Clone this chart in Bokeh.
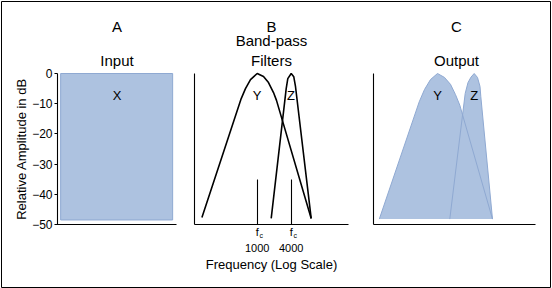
from math import log10
from bokeh.plotting import figure
from bokeh.models import (FixedTicker, Label, Range1d, NumeralTickFormatter,
                          LinearAxis, LogAxis, LogScale)
from bokeh.embed import file_html
from bokeh.resources import INLINE

FONT = "Liberation Sans"
FILL = "#adc2e0"
EDGE = "#8fa9d2"

# ---- data ----
db_ticks = [0, -10, -20, -30, -40, -50]
center_freqs = [1000, 4000]

# A: flat input spectrum
input_freq_lo, input_freq_hi = 24, 16000
input_top_db, input_floor_db = 0, -48.5

# B: band-pass filter responses (Hz, dB)
filt_y_freq = [105, 521, 620, 761, 1000, 1293, 1585, 1944, 2196, 9037]
filt_y_db = [-47.7, -8.3, -5.0, -2.0, 0.0, -1.0, -3.0, -6.3, -8.9, -48.0]
filt_z_freq = [1770, 3262, 3482, 4000, 4446, 4765, 9037]
filt_z_db = [-48.0, -5.0, -1.7, 0.0, -1.1, -4.3, -48.0]

# C: output spectra (Hz, dB)
out_y_freq = [111, 501, 612, 768, 1000, 1302, 1635, 1974, 2322, 7984]
out_y_db = [-48.2, -9.4, -5.3, -2.0, 0.0, -1.3, -3.6, -7.0, -10.5, -48.2]
out_z_freq = [1591, 2847, 3165, 3543, 4000, 4530, 4980, 5133, 7984]
out_z_db = [-48.2, -6.6, -3.0, -1.2, 0.0, -1.3, -4.3, -7.6, -48.2]

# panel frequency extents (axis bounds)
panel_a_bounds = (17.8, 20000)
panel_b_bounds = (77.6, 41360)
panel_c_bounds = (89.2, 40510)

# ---- layout geometry (canvas pixels) ----
W, H = 552, 288
FL, FR, FT, FB = 1, 550, 1, 287          # frame edges
Y0_PX, Y50_PX = 73, 224                   # pixel rows of 0 dB and -50 dB


def log_range(px_a, f_a, px_b, f_b):
    per = (px_b - px_a) / (log10(f_b) - log10(f_a))
    lo = 10 ** (log10(f_a) - (px_a - FL) / per)
    hi = 10 ** (log10(f_a) + (FR - px_a) / per)
    return Range1d(lo, hi)


per_db = (Y50_PX - Y0_PX) / 50.0
y_range = Range1d(-(FB - Y0_PX) / per_db, (Y0_PX - FT) / per_db)

p = figure(width=W, height=H, x_range=Range1d(0, 1), y_range=y_range,
           x_axis_location=None, y_axis_location=None,
           min_border_left=FL, min_border_right=W - FR, min_border_top=FT,
           min_border_bottom=H - FB, output_backend="svg", toolbar_location=None,
           background_fill_color="white", border_fill_color="white")
p.outline_line_color = "black"
p.outline_line_width = 1
p.grid.visible = False

p.extra_x_ranges = {
    "A": log_range(57, 20, 176, 20000),
    "B": log_range(256.7, 1000, 290.7, 4000),
    "C": log_range(437, 1000, 473.7, 4000),
}
p.extra_x_scales = {"A": LogScale(), "B": LogScale(), "C": LogScale()}


def style(ax):
    ax.axis_line_color = "black"
    ax.axis_line_width = 1.1
    ax.minor_tick_line_color = None
    ax.major_tick_line_color = "black"
    ax.major_tick_in = 0
    ax.major_tick_out = 0
    ax.major_label_text_font = FONT
    ax.major_label_text_color = "black"
    ax.axis_label_text_font = FONT
    ax.axis_label_text_font_style = "normal"
    ax.axis_label_text_color = "black"
    return ax


def yaxis(name, loc, ticks):
    ax = style(LinearAxis(x_range_name=name, fixed_location=loc, bounds=(-50, 0),
                          ticker=FixedTicker(ticks=ticks)))
    p.add_layout(ax, "left")
    return ax


def xaxis(name, bounds, ticks):
    ax = style(LogAxis(x_range_name=name, fixed_location=-50, bounds=bounds,
                       ticker=FixedTicker(ticks=ticks)))
    p.add_layout(ax, "below")
    return ax


def text(name, x, y, txt, size="15px", **kw):
    p.add_layout(Label(x=x, y=y, x_range_name=name, text=txt, text_font=FONT,
                       text_font_size=size, text_align="center",
                       text_baseline="middle", text_color="black", **kw))


# ---- panel A ----
ya = yaxis("A", 20, db_ticks)
ya.major_tick_out = 3
ya.major_label_standoff = 2
ya.major_label_text_font_size = "12px"
ya.axis_label = "Relative Amplitude in dB"
ya.axis_label_text_font_size = "13px"
ya.axis_label_standoff = 0
xaxis("A", panel_a_bounds, [])
p.quad(left=[input_freq_lo], right=[input_freq_hi], top=[input_top_db],
       bottom=[input_floor_db], fill_color=FILL, line_color=EDGE, line_width=1,
       x_range_name="A")
text("A", 632, 15.4, "A")
text("A", 632, 4.3, "Input")
text("A", 632, -7.3, "X", "13px")

# ---- panel B ----
yaxis("B", panel_b_bounds[0], [])
xb = xaxis("B", panel_b_bounds, center_freqs)
xb.formatter = NumeralTickFormatter(format="0")
xb.major_tick_in = 45
xb.major_tick_line_width = 1.1
xb.major_label_standoff = 19
xb.major_label_text_font_size = "11px"
xb.axis_label = "Frequency (Log Scale)"
xb.axis_label_text_font_size = "13px"
xb.axis_label_standoff = 2
p.line(filt_y_freq, filt_y_db, line_color="black", line_width=1.6, x_range_name="B")
p.line(filt_z_freq, filt_z_db, line_color="black", line_width=1.6, x_range_name="B")
text("B", 1791, 15.4, "B")
text("B", 1791, 10.8, "Band-pass")
text("B", 1791, 4.3, "Filters")
text("B", 1000, -7.3, "Y", "13px")
text("B", 3950, -7.3, "Z", "13px")
for f in center_freqs:
    text("B", f, -52.6, "f", "11px")
    text("B", f, -53.5, "c", "7px", x_offset=4)

# ---- panel C ----
yaxis("C", panel_c_bounds[0], [])
xaxis("C", panel_c_bounds, [])
p.patch(out_y_freq, out_y_db, fill_color=FILL, line_color=None, x_range_name="C")
p.patch(out_z_freq, out_z_db, fill_color=FILL, line_color=None, x_range_name="C")
p.line(out_y_freq, out_y_db, line_color=EDGE, line_width=1, x_range_name="C")
p.line(out_z_freq, out_z_db, line_color=EDGE, line_width=1, x_range_name="C")
text("C", 2050, 15.4, "C")
text("C", 2050, 4.3, "Output")
text("C", 1000, -7.3, "Y", "13px")
text("C", 4000, -7.3, "Z", "13px")

open("out.html", "w").write(file_html(p, INLINE))
